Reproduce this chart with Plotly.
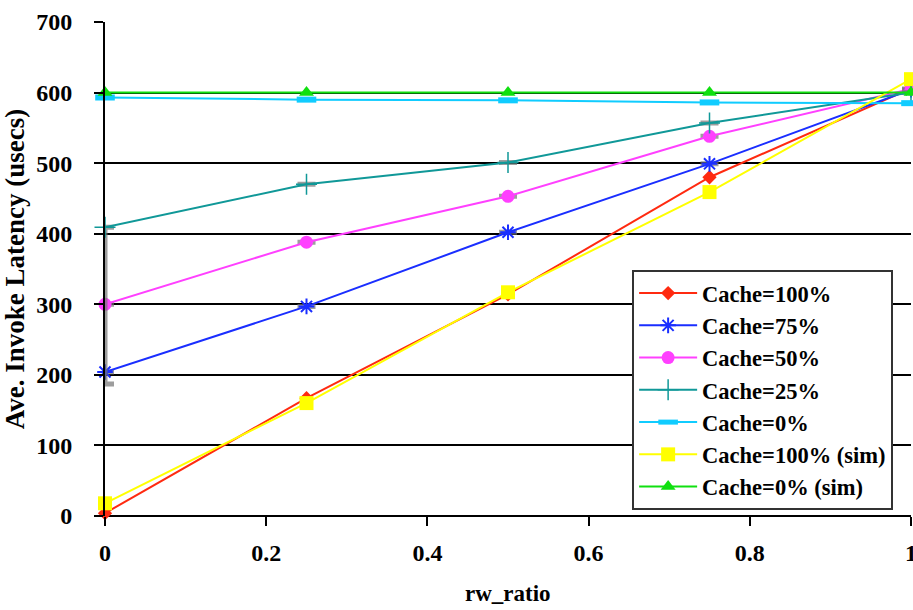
import plotly.graph_objects as go

rw_ratio = [0, 0.25, 0.5, 0.75, 1.0]
cache_100 = [4, 167, 314, 480, 606]
cache_75 = [204, 297, 402, 499, 604]
cache_50 = [300, 388, 453, 538, 605]
cache_25 = [409, 470, 501, 557, 600]
cache_0 = [593, 590, 589, 586, 585]
cache_100_sim = [18, 160, 317, 459, 619]
cache_0_sim = [600, 600, 600, 600, 600]

y_ticks = [0, 100, 200, 300, 400, 500, 600, 700]
x_ticks = [0, 0.2, 0.4, 0.6, 0.8, 1]
x_tick_text = ["0", "0.2", "0.4", "0.6", "0.8", "1"]
x_title = "rw_ratio"
y_title = "Ave. Invoke Latency (usecs)"

FONT = "Liberation Serif"

series = [
    ("Cache=100%", cache_100, "#FF2A10", dict(symbol="diamond", size=11, color="#FF2A10")),
    ("Cache=75%", cache_75, "#1A2EFF", dict(symbol="asterisk-open", size=13, line=dict(color="#1A2EFF", width=2))),
    ("Cache=50%", cache_50, "#FF40FF", dict(symbol="circle", size=13, color="#FF40FF")),
    ("Cache=25%", cache_25, "#109898", dict(symbol="cross-thin-open", size=15, line=dict(color="#109898", width=1.5))),
    ("Cache=0%", cache_0, "#10CCFF", dict(symbol="line-ew-open", size=14, line=dict(color="#10CCFF", width=6))),
    ("Cache=100% (sim)", cache_100_sim, "#FFFF00", dict(symbol="square", size=14, color="#FFFF00")),
    ("Cache=0% (sim)", cache_0_sim, "#10E010", dict(symbol="triangle-up", size=13, color="#10E010")),
]

err_minus = {"Cache=25%": [222, 0, 0, 0, 0], "Cache=50%": [0, 0, 0, 0, 0], "Cache=75%": [0, 0, 0, 0, 0]}

fig = go.Figure()
for i, (name, ys, color, marker) in enumerate(series):
    kw = {}
    if name in err_minus:
        kw["error_y"] = dict(type="data", symmetric=False,
                             array=[0, 0, 0, 0, 0],
                             arrayminus=err_minus[name], color="rgba(115,115,115,0.7)",
                             thickness=5, width=9, visible=True)
    fig.add_trace(go.Scatter(x=rw_ratio, y=ys, name=name, mode="lines+markers",
                             legendgroup=f"g{i}",
                             line=dict(color=color, width=2), marker=marker,
                             cliponaxis=False, **kw))

fig.update_layout(
    width=913, height=610,
    margin=dict(l=105, r=2, t=22, b=94),
    paper_bgcolor="white", plot_bgcolor="white",
    font=dict(family=FONT, color="black", size=23),
    showlegend=True,
    legend=dict(x=0.654, y=0.498, xanchor="left", yanchor="top",
                bgcolor="white", bordercolor="#333333", borderwidth=2,
                font=dict(family=FONT, size=22.5, color="black", weight="bold"),
                itemwidth=58, tracegroupgap=0),
    xaxis=dict(range=[0, 1], tickvals=x_ticks, ticktext=x_tick_text,
               automargin=False, ticklabeloverflow="allow",
               showgrid=False, zeroline=False, showline=False,
               ticks="outside", ticklen=9, tickcolor="black", tickwidth=2,
               ticklabelstandoff=6,
               tickfont=dict(family=FONT, size=24, weight="bold")),
    yaxis=dict(range=[0, 700], tickvals=y_ticks,
               automargin=False,
               showgrid=True, gridcolor="black", gridwidth=1.5,
               zeroline=True, zerolinecolor="black", zerolinewidth=1.5,
               showline=True, linecolor="black", linewidth=2,
               ticks="outside", ticklen=9, tickcolor="black", tickwidth=2,
               ticklabelstandoff=17,
               tickfont=dict(family=FONT, size=24, weight="bold"),
               title=dict(text=y_title, standoff=8,
                          font=dict(family=FONT, size=27, weight="bold"))),
    annotations=[dict(text=x_title, xref="paper", yref="paper", x=0.5, y=-0.156,
                      xanchor="center", yanchor="middle", showarrow=False,
                      font=dict(family=FONT, size=23, weight="bold"))],
)

fig.write_html("out.html", post_script="document.body.style.margin='0';",
               config={"displayModeBar": False})
